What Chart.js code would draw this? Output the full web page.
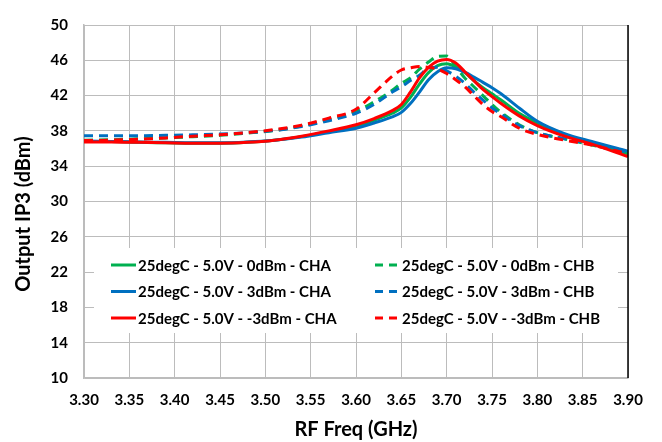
<!DOCTYPE html>
<html>
<head>
<meta charset="utf-8">
<script src="https://cdn.jsdelivr.net/npm/chart.js@4.4.1/dist/chart.umd.min.js"></script>
<style>
  html, body { margin: 0; padding: 0; background: #fff; }
  #wrap { width: 662px; height: 442px; position: relative; }
</style>
</head>
<body>
<div id="wrap"><canvas id="ip3"></canvas></div>
<script>
'use strict';

// ── data ────────────────────────────────────────────────────────────────────
const freqs = [3.30, 3.33, 3.36, 3.39, 3.42, 3.45, 3.48, 3.51, 3.54, 3.57, 3.60, 3.62, 3.64, 3.65, 3.66,
               3.67, 3.68, 3.69, 3.70, 3.71, 3.72, 3.73, 3.74, 3.75, 3.76, 3.78, 3.80, 3.83, 3.86, 3.90];

const green0A = [36.8, 36.8, 36.7, 36.65, 36.6, 36.6, 36.7, 36.95, 37.35, 37.9, 38.5, 39.2, 40.0, 40.6, 41.8,
                 43.3, 44.6, 45.4, 45.6, 45.25, 44.6, 43.7, 42.9, 42.2, 41.5, 40.0, 38.9, 37.55, 36.65, 35.4];
const green0B = [36.95, 37.0, 37.1, 37.2, 37.35, 37.5, 37.75, 38.05, 38.55, 39.3, 40.2, 41.3, 42.6, 43.4, 44.0,
                 45.0, 45.8, 46.45, 46.5, 45.3, 44.0, 43.0, 42.0, 41.0, 40.1, 38.7, 37.8, 37.1, 36.4, 35.5];
const blue3A  = [36.85, 36.8, 36.75, 36.7, 36.65, 36.65, 36.75, 36.95, 37.3, 37.8, 38.3, 38.9, 39.6, 40.1, 41.1,
                 42.4, 43.8, 44.7, 45.15, 45.05, 44.65, 44.1, 43.5, 42.9, 42.2, 40.6, 39.1, 37.7, 36.8, 35.7];
const blue3B  = [37.45, 37.45, 37.45, 37.5, 37.55, 37.65, 37.8, 38.05, 38.5, 39.15, 40.0, 41.0, 42.4, 43.0, 43.7,
                 44.3, 45.1, 45.2, 44.8, 44.2, 43.4, 42.4, 41.5, 40.6, 39.9, 38.6, 37.8, 37.1, 36.5, 35.6];
const redM3A  = [36.75, 36.75, 36.7, 36.65, 36.6, 36.6, 36.7, 36.95, 37.4, 38.0, 38.7, 39.4, 40.3, 41.0, 42.4,
                 44.0, 45.2, 45.9, 46.1, 45.7, 44.7, 43.7, 42.7, 41.9, 41.1, 39.7, 38.6, 37.4, 36.5, 35.1];
const redM3B  = [36.9, 36.95, 37.05, 37.2, 37.4, 37.55, 37.8, 38.15, 38.65, 39.45, 40.45, 42.3, 44.2, 44.9, 45.15,
                 45.3, 45.2, 45.0, 44.5, 43.8, 43.0, 42.0, 41.0, 40.2, 39.6, 38.3, 37.6, 36.95, 36.4, 35.4];

const seriesNames = [
  '25degC - 5.0V - 0dBm - CHA',  '25degC - 5.0V - 0dBm - CHB',
  '25degC - 5.0V - 3dBm - CHA',  '25degC - 5.0V - 3dBm - CHB',
  '25degC - 5.0V - -3dBm - CHA', '25degC - 5.0V - -3dBm - CHB',
];
const seriesValues = [green0A, green0B, blue3A, blue3B, redM3A, redM3B];

const yTicks = [10, 14, 18, 22, 26, 30, 34, 38, 42, 46, 50];
const xTicks = [3.30, 3.35, 3.40, 3.45, 3.50, 3.55, 3.60, 3.65, 3.70, 3.75, 3.80, 3.85, 3.90];
const yTitle = 'Output IP3 (dBm)';
const xTitle = 'RF Freq (GHz)';

// ── styles ──────────────────────────────────────────────────────────────────
const COLORS = ['#00b050', '#00b050', '#0070c0', '#0070c0', '#ff0000', '#ff0000'];
const DASHED = [false, true, false, true, false, true];
const ORDER  = [5, 4, 3, 2, 1, 0];
const FONT   = "Lato, 'Open Sans', sans-serif";
const GRID   = '#bcbcbc';

const datasets = seriesValues.map((vals, i) => ({
  label: seriesNames[i],
  data: freqs.map((f, k) => ({ x: f, y: vals[k] })),
  borderColor: COLORS[i],
  backgroundColor: COLORS[i],
  borderWidth: 3,
  borderDash: DASHED[i] ? [9, 6] : [],
  pointRadius: 0,
  cubicInterpolationMode: 'monotone',
  order: ORDER[i],
}));

// 凡例（プロット内、2 列 × 3 行、白背景）＋ Y 軸タイトル ＋ 右枠線
const boxLegend = {
  id: 'boxLegend',
  afterDatasetsDraw(chart) {
    const ctx = chart.ctx;
    ctx.save();
    ctx.fillStyle = '#fff';
    ctx.fillRect(94, 248, 524, 85);
    ctx.font = `bold 15px ${FONT}`;
    ctx.textBaseline = 'middle';
    ctx.fillStyle = '#000';
    chart.data.datasets.forEach((ds, i) => {
      const col = i % 2, row = Math.floor(i / 2);
      const x0 = col === 0 ? 111 : 375;
      const y  = 265 + row * 26.5;
      ctx.strokeStyle = ds.borderColor;
      ctx.lineWidth = 3;
      ctx.setLineDash(ds.borderDash.length ? [8, 6] : []);
      ctx.beginPath();
      ctx.moveTo(x0, y);
      ctx.lineTo(x0 + 25, y);
      ctx.stroke();
      ctx.setLineDash([]);
      ctx.fillText(ds.label, x0 + 27, y + 1);
    });
    const a = chart.chartArea;
    ctx.strokeStyle = '#000';
    ctx.lineWidth = 1.5;
    ctx.beginPath();
    ctx.moveTo(a.right, a.top);
    ctx.lineTo(a.right, a.bottom);
    ctx.stroke();
    ctx.restore();
  },
  afterDraw(chart) {
    const ctx = chart.ctx;
    ctx.save();
    ctx.translate(24, 214);
    ctx.rotate(-Math.PI / 2);
    ctx.font = `bold 20px ${FONT}`;
    ctx.fillStyle = '#000';
    ctx.textAlign = 'center';
    ctx.textBaseline = 'middle';
    ctx.fillText(yTitle, 0, 0);
    ctx.restore();
  },
};

new Chart(document.getElementById('ip3'), {
  type: 'line',
  data: { datasets },
  plugins: [boxLegend],
  options: {
    responsive: true, maintainAspectRatio: false, animation: false,
    layout: { padding: { top: 15, right: 34, left: 0, bottom: 0 } },
    plugins: { legend: { display: false }, tooltip: { enabled: false } },
    scales: {
      x: {
        type: 'linear', min: 3.30, max: 3.90,
        afterBuildTicks: s => { s.ticks = xTicks.map(v => ({ value: v })); },
        afterFit: s => { s.height = 64; },
        grid: { color: GRID, drawTicks: false },
        border: { color: GRID, width: 1.5 },
        ticks: { padding: 13, color: '#000', font: { family: FONT, size: 15, weight: 'bold' }, callback: v => v.toFixed(2) },
        title: { display: true, text: xTitle, color: '#000', padding: { top: 0, bottom: 0 }, font: { family: FONT, size: 20, weight: 'bold' } },
      },
      y: {
        min: 10, max: 50,
        afterBuildTicks: s => { s.ticks = yTicks.map(v => ({ value: v })); },
        afterFit: s => { s.width = 84; },
        grid: { color: GRID, drawTicks: false },
        border: { color: GRID, width: 1.5 },
        ticks: { padding: 16, color: '#000', font: { family: FONT, size: 15, weight: 'bold' } },
      },
    },
  },
});
</script>
</body>
</html>
